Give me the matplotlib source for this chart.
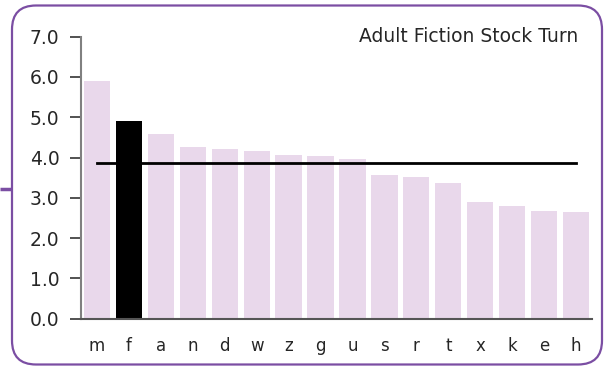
import numpy as np
import matplotlib.pyplot as plt
from matplotlib.patches import FancyBboxPatch

# stock turn per branch, sorted high to low
branches = ["m", "f", "a", "n", "d", "w", "z", "g", "u", "s", "r", "t", "x", "k", "e", "h"]
stock_turn = [5.90, 4.91, 4.58, 4.26, 4.21, 4.16, 4.06, 4.04, 3.96, 3.57, 3.52, 3.37, 2.90, 2.80, 2.67, 2.65]
highlight = "f"
average_turn = 3.86
yticks = [0.0, 1.0, 2.0, 3.0, 4.0, 5.0, 6.0, 7.0]
title = "Adult Fiction Stock Turn"

purple = "#7b4ea3"
pale = "#e9d8eb"
ink = "#262626"

fig = plt.figure(figsize=(6.04, 3.67), dpi=100)

# frame layer in pixel units
bg = fig.add_axes([0, 0, 1, 1])
bg.set_xlim(0, 604)
bg.set_ylim(367, 0)
bg.axis("off")
bg.add_patch(FancyBboxPatch((12, 5.5), 590, 359, boxstyle="round,pad=0,rounding_size=24",
                            fill=False, edgecolor=purple, linewidth=1.6))
bg.plot([0, 12], [189, 189], color=purple, linewidth=2.5, solid_capstyle="butt")
bg.text(578, 36, title, fontsize=13.5, color=ink, ha="right", va="center")

ax = fig.add_axes([81 / 604, 1 - 318.7 / 367, (592 - 81) / 604, (318.7 - 36.7) / 367])
ax.set_facecolor("none")
x = np.arange(len(branches))
colors = ["black" if b == highlight else pale for b in branches]
ax.bar(x, stock_turn, width=0.82, color=colors, zorder=2)
ax.plot([x[0], x[-1]], [average_turn, average_turn], color="black", linewidth=2, zorder=3)

ax.set_xlim(-0.5, len(branches) - 0.5)
ax.set_ylim(0, 7)
ax.set_yticks(yticks)
ax.set_yticklabels(["%.1f" % v for v in yticks], fontsize=13.5, color=ink)
ax.set_xticks(x)
ax.set_xticklabels(branches, fontsize=12, color=ink)
ax.tick_params(axis="y", direction="out", length=8, width=1.2, color="#333333", pad=7.5)
ax.tick_params(axis="x", length=0, pad=13.5)

for side in ["top", "right"]:
    ax.spines[side].set_visible(False)
ax.spines["left"].set_color("#808080")
ax.spines["left"].set_linewidth(1.5)
ax.spines["bottom"].set_color("#555555")
ax.spines["bottom"].set_linewidth(1.5)

plt.savefig("out.png", dpi=100)
